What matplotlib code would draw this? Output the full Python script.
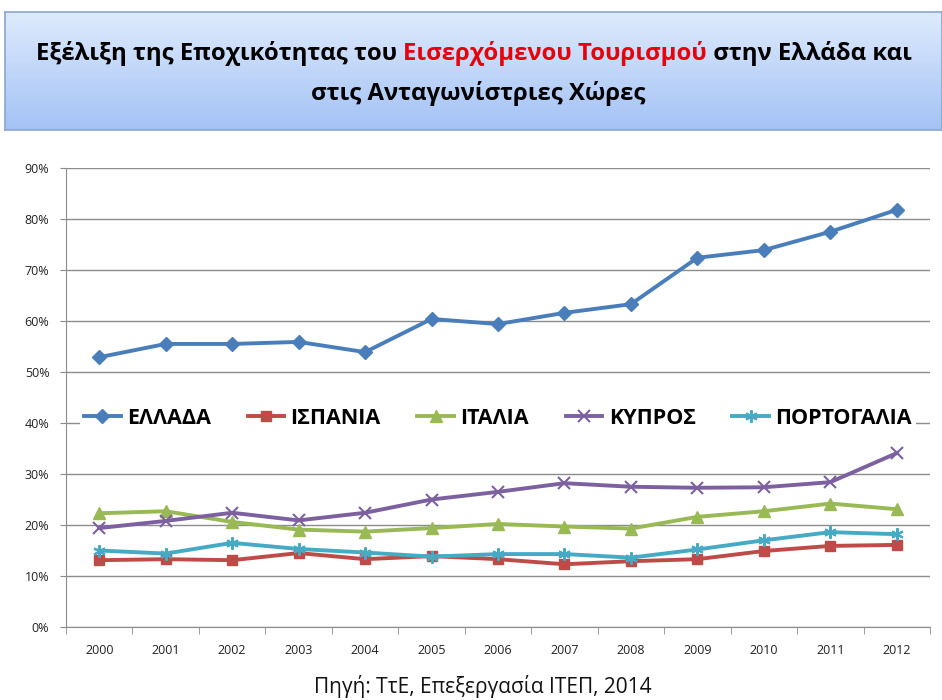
import numpy as np
import matplotlib.pyplot as plt
from matplotlib.ticker import PercentFormatter

# data (percent)
years = ['2000', '2001', '2002', '2003', '2004', '2005', '2006',
         '2007', '2008', '2009', '2010', '2011', '2012']
greece   = [52.9, 55.5, 55.5, 55.9, 53.9, 60.4, 59.4, 61.6, 63.3, 72.4, 73.9, 77.5, 81.8]
spain    = [13.1, 13.3, 13.1, 14.5, 13.3, 13.9, 13.3, 12.3, 12.9, 13.3, 14.9, 15.9, 16.1]
italy    = [22.3, 22.7, 20.6, 19.1, 18.7, 19.4, 20.2, 19.7, 19.3, 21.6, 22.7, 24.2, 23.1]
cyprus   = [19.4, 20.8, 22.4, 20.9, 22.4, 25.0, 26.5, 28.2, 27.5, 27.3, 27.4, 28.4, 34.1]
portugal = [15.0, 14.4, 16.5, 15.3, 14.6, 13.8, 14.3, 14.3, 13.6, 15.2, 17.0, 18.6, 18.2]

series_names = ['ΕΛΛΑΔΑ', 'ΙΣΠΑΝΙΑ', 'ΙΤΑΛΙΑ', 'ΚΥΠΡΟΣ', 'ΠΟΡΤΟΓΑΛΙΑ']
title_parts = ['Εξέλιξη της Εποχικότητας του ', 'Εισερχόμενου Τουρισμού', ' στην Ελλάδα και']
title_line2 = 'στις Ανταγωνίστριες Χώρες'
source = 'Πηγή: ΤτΕ, Επεξεργασία ΙΤΕΠ, 2014'

plt.rcParams['font.family'] = ['Open Sans', 'DejaVu Sans']

fig = plt.figure(figsize=(9.42, 7.0), dpi=100)

# title box with a light blue gradient
W, H = 942, 700
box = fig.add_axes([5 / W, 1 - 130 / H, 937 / W, 118 / H])
grad = np.linspace(0, 1, 100).reshape(-1, 1)
top = np.array([0.87, 0.92, 0.99])
bot = np.array([0.64, 0.76, 0.96])
img = top + (bot - top) * grad[:, :, None]
box.imshow(img, aspect='auto', extent=[0, 1, 0, 1])
box.set_xticks([])
box.set_yticks([])
for s in box.spines.values():
    s.set_color('#8aa6cf')
    s.set_linewidth(1.2)

# first title line in three colours, laid out piece by piece
fig.canvas.draw()
r = fig.canvas.get_renderer()
tkw = dict(fontsize=17.2, fontweight='bold', family=['Open Sans', 'DejaVu Sans'])
cols = ['black', '#e8000b', 'black']
pieces = [fig.text(0, 0, t, color=c, **tkw) for t, c in zip(title_parts, cols)]
widths = [p.get_window_extent(r).width for p in pieces]
x = (W - sum(widths)) / 2 + 3
for p, w in zip(pieces, widths):
    p.set_position((x / W, 1 - 60 / H))
    x += w
fig.text(478 / W, 1 - 100 / H, title_line2, ha='center', color='black', **tkw)

# main chart
ax = fig.add_axes([66 / W, 1 - 627 / H, 864 / W, 459 / H])
xs = np.arange(len(years))
styles = [
    (greece, '#4a7ebb', 'D', 7),
    (spain, '#be4b48', 's', 7),
    (italy, '#98b954', '^', 8),
    (cyprus, '#7d60a0', 'x', 8),
    (portugal, '#46aac5', (6, 2, 0), 9),
]
for (vals, c, m, ms), name in zip(styles, series_names):
    kw = dict(markeredgewidth=1.5) if m in ('x', (6, 2, 0)) else {}
    ax.plot(xs, vals, color=c, lw=2.8, marker=m, markersize=ms, label=name, **kw)

ax.set_xlim(-0.5, len(years) - 0.5)
ax.set_ylim(0, 90)
ax.set_yticks(np.arange(0, 91, 10))
ax.yaxis.set_major_formatter(PercentFormatter(decimals=0))
ax.set_xticks(xs)
ax.set_xticklabels(years)
ax.set_xticks(np.arange(-0.5, len(years), 1), minor=True)
ax.tick_params(axis='x', which='major', length=0, pad=12, labelsize=9, colors='#222222')
ax.tick_params(axis='x', which='minor', length=5, color='#8c8c8c')
ax.tick_params(axis='y', length=4, color='#8c8c8c', labelsize=9, colors='#222222', pad=8)
ax.grid(axis='y', color='#8c8c8c', lw=1)
ax.set_axisbelow(True)
for side in ['top', 'right']:
    ax.spines[side].set_visible(False)
ax.spines['left'].set_color('#8c8c8c')
ax.spines['bottom'].set_color('#8c8c8c')

leg = ax.legend(loc='center', bbox_to_anchor=(0.5, 0.455), ncol=5, frameon=True,
                framealpha=1, edgecolor='none', fancybox=False,
                prop={'weight': 'bold', 'size': 15.5}, handlelength=1.7,
                columnspacing=1.7, handletextpad=0.3, borderpad=0.2)

fig.text(483 / W, 1 - 687 / H, source, ha='center', va='center', fontsize=15,
         color='#111111')

fig.savefig('out.png', dpi=100)
